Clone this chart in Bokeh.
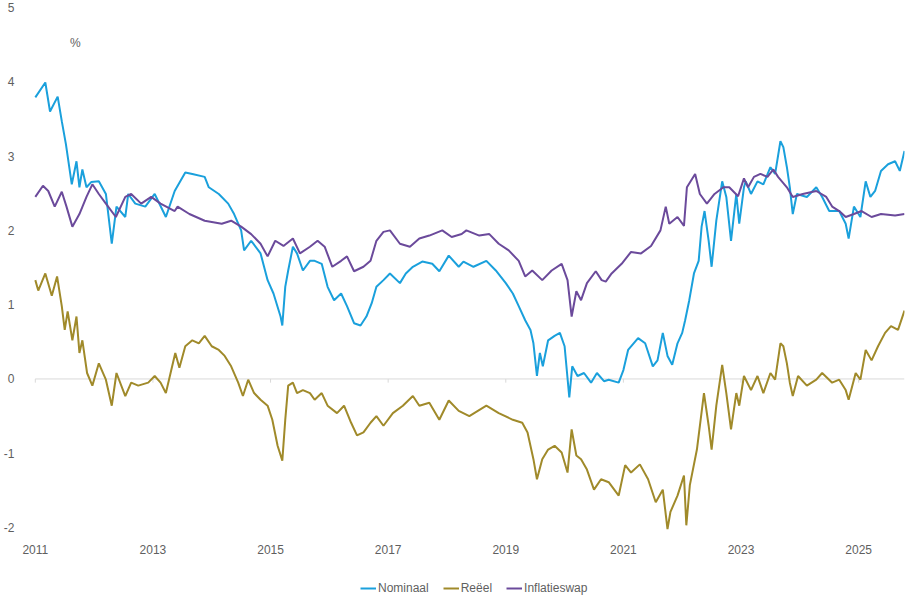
from bokeh.plotting import figure
from bokeh.models import Range1d, FixedTicker, Label, Legend, LegendItem
from bokeh.embed import file_html
from bokeh.resources import INLINE

# ---------------- data (decimal years, %) ----------------
nom_years = [2011.00, 2011.17, 2011.25, 2011.38, 2011.45, 2011.52, 2011.62, 2011.70, 2011.75, 2011.80,
             2011.87, 2011.95, 2012.08, 2012.20, 2012.30, 2012.38, 2012.53, 2012.58, 2012.70, 2012.87,
             2013.03, 2013.22, 2013.37, 2013.55, 2013.67, 2013.88, 2013.95, 2014.12, 2014.28, 2014.38,
             2014.50, 2014.55, 2014.67, 2014.83, 2014.95, 2015.05, 2015.17, 2015.20, 2015.25, 2015.30,
             2015.38, 2015.45, 2015.55, 2015.67, 2015.75, 2015.87, 2015.97, 2016.08, 2016.20, 2016.30,
             2016.42, 2016.53, 2016.63, 2016.72, 2016.80, 2016.92, 2017.03, 2017.20, 2017.30, 2017.42,
             2017.58, 2017.75, 2017.87, 2018.03, 2018.20, 2018.28, 2018.45, 2018.67, 2018.83, 2019.00,
             2019.12, 2019.22, 2019.33, 2019.42, 2019.47, 2019.53, 2019.58, 2019.63, 2019.72, 2019.83,
             2019.92, 2020.00, 2020.08, 2020.13, 2020.22, 2020.33, 2020.45, 2020.55, 2020.67, 2020.75,
             2020.92, 2021.00, 2021.08, 2021.25, 2021.37, 2021.50, 2021.58, 2021.67, 2021.75, 2021.83,
             2021.92, 2022.00, 2022.05, 2022.12, 2022.20, 2022.28, 2022.33, 2022.38, 2022.45, 2022.50,
             2022.58, 2022.68, 2022.75, 2022.83, 2022.92, 2022.97, 2023.05, 2023.08, 2023.17, 2023.28,
             2023.38, 2023.50, 2023.58, 2023.67, 2023.72, 2023.78, 2023.83, 2023.88, 2023.95, 2024.12,
             2024.28, 2024.38, 2024.50, 2024.67, 2024.78, 2024.83, 2024.92, 2025.03, 2025.12, 2025.20,
             2025.28, 2025.38, 2025.50, 2025.62, 2025.70, 2025.78]
nom_values = [3.79, 3.99, 3.60, 3.80, 3.47, 3.16, 2.62, 2.93, 2.58, 2.82,
              2.58, 2.65, 2.66, 2.49, 1.82, 2.32, 2.18, 2.49, 2.36, 2.32,
              2.49, 2.18, 2.53, 2.78, 2.76, 2.72, 2.58, 2.49, 2.36, 2.22,
              2.00, 1.73, 1.86, 1.69, 1.33, 1.15, 0.84, 0.72, 1.24, 1.46,
              1.78, 1.69, 1.46, 1.59, 1.59, 1.55, 1.24, 1.06, 1.15, 0.98,
              0.75, 0.72, 0.84, 1.02, 1.24, 1.33, 1.42, 1.29, 1.42, 1.51,
              1.58, 1.55, 1.45, 1.66, 1.51, 1.58, 1.51, 1.59, 1.46, 1.29,
              1.15, 0.98, 0.79, 0.66, 0.48, 0.04, 0.35, 0.17, 0.52, 0.58,
              0.62, 0.44, -0.25, 0.17, 0.04, 0.08, -0.05, 0.08, -0.03, -0.01,
              -0.05, 0.12, 0.39, 0.55, 0.48, 0.17, 0.25, 0.62, 0.31, 0.19,
              0.48, 0.62, 0.79, 1.06, 1.42, 1.59, 2.05, 2.26, 1.86, 1.51,
              2.13, 2.66, 2.45, 1.86, 2.49, 2.09, 2.58, 2.66, 2.49, 2.66,
              2.62, 2.85, 2.76, 3.20, 3.12, 2.85, 2.58, 2.22, 2.49, 2.45,
              2.58, 2.45, 2.26, 2.26, 2.09, 1.89, 2.32, 2.18, 2.66, 2.45,
              2.53, 2.80, 2.89, 2.93, 2.80, 3.07]

real_years = [2011.00, 2011.05, 2011.17, 2011.28, 2011.37, 2011.45, 2011.50, 2011.55, 2011.63, 2011.70,
              2011.75, 2011.80, 2011.88, 2011.97, 2012.08, 2012.20, 2012.30, 2012.38, 2012.53, 2012.63,
              2012.75, 2012.92, 2013.03, 2013.13, 2013.22, 2013.30, 2013.38, 2013.45, 2013.55, 2013.67,
              2013.78, 2013.88, 2014.00, 2014.12, 2014.22, 2014.33, 2014.45, 2014.53, 2014.62, 2014.72,
              2014.83, 2014.95, 2015.03, 2015.12, 2015.20, 2015.25, 2015.30, 2015.38, 2015.45, 2015.55,
              2015.67, 2015.75, 2015.87, 2015.97, 2016.13, 2016.25, 2016.37, 2016.47, 2016.58, 2016.70,
              2016.80, 2016.92, 2017.08, 2017.25, 2017.42, 2017.53, 2017.70, 2017.87, 2018.03, 2018.20,
              2018.38, 2018.67, 2018.88, 2019.12, 2019.28, 2019.37, 2019.47, 2019.53, 2019.62, 2019.72,
              2019.83, 2019.95, 2020.05, 2020.12, 2020.20, 2020.28, 2020.38, 2020.50, 2020.62, 2020.75,
              2020.92, 2021.03, 2021.13, 2021.28, 2021.42, 2021.55, 2021.67, 2021.75, 2021.80, 2021.92,
              2022.03, 2022.07, 2022.13, 2022.25, 2022.37, 2022.45, 2022.50, 2022.58, 2022.68, 2022.75,
              2022.83, 2022.92, 2022.97, 2023.05, 2023.17, 2023.28, 2023.38, 2023.50, 2023.58, 2023.67,
              2023.72, 2023.78, 2023.83, 2023.88, 2023.97, 2024.12, 2024.28, 2024.38, 2024.55, 2024.67,
              2024.78, 2024.83, 2024.95, 2025.03, 2025.12, 2025.22, 2025.33, 2025.45, 2025.55, 2025.67,
              2025.78]
real_values = [1.33, 1.19, 1.42, 1.12, 1.38, 0.98, 0.66, 0.91, 0.52, 0.84,
               0.35, 0.52, 0.08, -0.09, 0.21, -0.01, -0.36, 0.08, -0.23, -0.05,
               -0.09, -0.05, 0.04, -0.05, -0.19, 0.08, 0.35, 0.15, 0.44, 0.52,
               0.48, 0.58, 0.44, 0.39, 0.31, 0.17, -0.05, -0.23, -0.01, -0.19,
               -0.28, -0.36, -0.55, -0.90, -1.10, -0.55, -0.09, -0.05, -0.19, -0.15,
               -0.19, -0.28, -0.19, -0.36, -0.46, -0.36, -0.59, -0.76, -0.72, -0.59,
               -0.50, -0.63, -0.46, -0.36, -0.23, -0.36, -0.32, -0.55, -0.29, -0.43,
               -0.50, -0.36, -0.46, -0.55, -0.59, -0.72, -1.08, -1.35, -1.08, -0.95,
               -0.90, -0.99, -1.26, -0.68, -1.03, -1.08, -1.22, -1.49, -1.35, -1.39,
               -1.57, -1.16, -1.26, -1.15, -1.35, -1.66, -1.49, -2.02, -1.79, -1.57,
               -1.30, -1.97, -1.43, -0.95, -0.19, -0.63, -0.95, -0.36, 0.19, -0.19,
               -0.68, -0.19, -0.36, 0.04, -0.15, 0.04, -0.19, 0.08, -0.01, 0.48,
               0.44, 0.21, -0.05, -0.23, 0.04, -0.09, -0.01, 0.08, -0.05, -0.01,
               -0.15, -0.28, 0.08, -0.01, 0.39, 0.25, 0.44, 0.62, 0.71, 0.66,
               0.92]

swap_years = [2011.00, 2011.13, 2011.22, 2011.33, 2011.45, 2011.53, 2011.63, 2011.75, 2011.87, 2011.97,
              2012.08, 2012.20, 2012.37, 2012.53, 2012.63, 2012.80, 2012.97, 2013.13, 2013.37, 2013.42,
              2013.62, 2013.88, 2014.17, 2014.33, 2014.50, 2014.67, 2014.83, 2014.95, 2015.08, 2015.22,
              2015.38, 2015.50, 2015.67, 2015.80, 2015.92, 2016.05, 2016.20, 2016.30, 2016.42, 2016.58,
              2016.70, 2016.80, 2016.92, 2017.03, 2017.20, 2017.37, 2017.53, 2017.70, 2017.92, 2018.08,
              2018.25, 2018.33, 2018.55, 2018.72, 2018.88, 2019.05, 2019.22, 2019.33, 2019.45, 2019.62,
              2019.78, 2019.95, 2020.05, 2020.12, 2020.20, 2020.28, 2020.38, 2020.53, 2020.63, 2020.70,
              2020.80, 2020.97, 2021.13, 2021.30, 2021.47, 2021.63, 2021.72, 2021.78, 2021.92, 2022.03,
              2022.08, 2022.22, 2022.30, 2022.42, 2022.55, 2022.70, 2022.80, 2022.95, 2023.05, 2023.12,
              2023.22, 2023.33, 2023.45, 2023.55, 2023.63, 2023.78, 2023.88, 2024.05, 2024.28, 2024.45,
              2024.55, 2024.67, 2024.78, 2024.92, 2025.05, 2025.22, 2025.38, 2025.62, 2025.78]
swap_values = [2.45, 2.60, 2.53, 2.32, 2.52, 2.32, 2.05, 2.22, 2.45, 2.62,
               2.49, 2.36, 2.18, 2.45, 2.49, 2.36, 2.45, 2.36, 2.26, 2.32,
               2.22, 2.13, 2.09, 2.13, 2.05, 1.95, 1.82, 1.65, 1.86, 1.79,
               1.89, 1.69, 1.78, 1.86, 1.78, 1.51, 1.59, 1.65, 1.45, 1.51,
               1.59, 1.86, 1.98, 2.00, 1.82, 1.78, 1.89, 1.93, 2.00, 1.91,
               1.95, 2.00, 1.93, 1.95, 1.82, 1.73, 1.59, 1.38, 1.46, 1.33,
               1.46, 1.55, 1.33, 0.84, 1.18, 1.06, 1.29, 1.45, 1.33, 1.31,
               1.42, 1.55, 1.71, 1.69, 1.79, 2.00, 2.32, 2.09, 2.18, 2.06,
               2.58, 2.76, 2.49, 2.36, 2.49, 2.58, 2.58, 2.46, 2.70, 2.58,
               2.72, 2.76, 2.72, 2.82, 2.72, 2.58, 2.45, 2.49, 2.53, 2.45,
               2.32, 2.26, 2.18, 2.22, 2.26, 2.18, 2.22, 2.20, 2.22]

year_ticks = [2011, 2013, 2015, 2017, 2019, 2021, 2023, 2025]
value_ticks = [-2, -1, 0, 1, 2, 3, 4, 5]
series_names = ["Nominaal", "Reëel", "Inflatieswap"]
series_colors = ["#1aa0dc", "#a08a2a", "#6b4a9b"]

FONT = "Liberation Sans"
TXT = "#5f5f5f"

# the frame reaches below -2 so the legend can sit inside it, under the x labels,
# and a little left of 2011 so the first year label is not clipped
p = figure(width=906, height=595, output_backend="svg", toolbar_location=None,
           x_range=Range1d(2010.765, 2025.78), y_range=Range1d(-2.915, 5),
           min_border_left=13, min_border_right=2, min_border_top=7, min_border_bottom=0)
p.outline_line_color = None
p.background_fill_color = "white"
p.border_fill_color = "white"
p.xgrid.visible = False
p.ygrid.visible = False

for ax in (p.xaxis[0], p.yaxis[0]):
    ax.axis_line_color = None
    ax.major_tick_line_color = None
    ax.minor_tick_line_color = None
    ax.major_label_text_font = FONT
    ax.major_label_text_font_size = "12px"
    ax.major_label_text_color = TXT

p.xaxis.ticker = FixedTicker(ticks=year_ticks)
p.xaxis.major_label_overrides = {t: str(t) for t in year_ticks}
p.xaxis.major_label_standoff = 11
p.xaxis.fixed_location = value_ticks[0]
p.yaxis.ticker = FixedTicker(ticks=value_ticks)
p.yaxis.major_label_overrides = {t: str(t) for t in value_ticks}
p.yaxis.major_label_standoff = 1

# zero line (from the first to the last date) with small ticks at the labelled years
p.segment(x0=[year_ticks[0]], y0=[0], x1=[nom_years[-1]], y1=[0], line_color="#d9d9d9", line_width=1)
p.segment(x0=year_ticks, y0=[0] * len(year_ticks), x1=year_ticks, y1=[-0.05] * len(year_ticks),
          line_color="#d9d9d9", line_width=1)

r_nom = p.line(nom_years, nom_values, line_color=series_colors[0], line_width=2)
r_real = p.line(real_years, real_values, line_color=series_colors[1], line_width=2)
r_swap = p.line(swap_years, swap_values, line_color=series_colors[2], line_width=2)

p.add_layout(Label(x=2011.68, y=4.52, text="%", text_font=FONT, text_font_size="12px",
                   text_color=TXT, text_align="center", text_baseline="middle"))

legend = Legend(items=[LegendItem(label=series_names[0], renderers=[r_nom]),
                       LegendItem(label=series_names[1], renderers=[r_real]),
                       LegendItem(label=series_names[2], renderers=[r_swap])],
                orientation="horizontal", location=(339, 0),
                label_text_font=FONT, label_text_font_size="12px", label_text_color=TXT,
                label_height=12, glyph_width=16, glyph_height=10, label_standoff=2, spacing=14,
                border_line_color=None, background_fill_alpha=0, padding=0, margin=0)
p.add_layout(legend)

open("out.html", "w").write(file_html(p, INLINE))
